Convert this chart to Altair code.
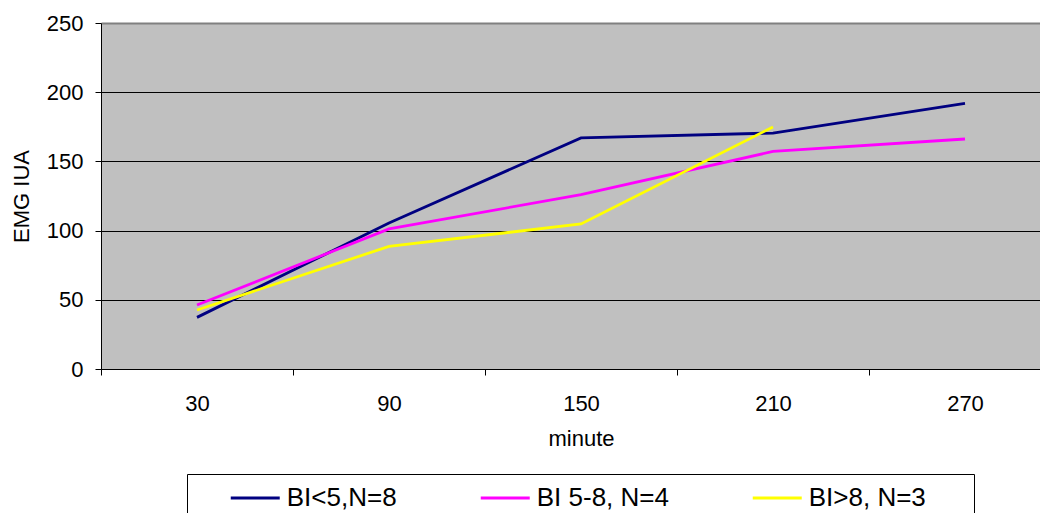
import altair as alt
import pandas as pd

# ---- data ----
minutes = [30, 90, 150, 210, 270]
series_names = ["BI<5,N=8", "BI 5-8, N=4", "BI>8, N=3"]
bi_lt5 = [37.3, 105.5, 167.0, 170.5, 192.0]
bi_5_8 = [46.2, 101.2, 126.0, 157.2, 166.2]
bi_gt8 = [42.6, 88.6, 104.8, 174.9, None]
colors = ["#000080", "#FF00FF", "#FFFF00"]
y_ticks = [0, 50, 100, 150, 200, 250]

rows = []
for name, vals in zip(series_names, [bi_lt5, bi_5_8, bi_gt8]):
    for m, v in zip(minutes, vals):
        if v is not None:
            rows.append({"minute": m, "value": v, "series": name})
df = pd.DataFrame(rows)

FONT = "Liberation Sans"
BLANK = chr(0x2800)  # blank glyph used only to widen the legend box on the right

x_axis = alt.Axis(
    title="minute", tickBand="extent", labelAngle=0, grid=False,
    domainColor="black", domainWidth=1, tickColor="black", tickSize=6,
    labelFont=FONT, labelFontSize=22, labelColor="black", labelPadding=18,
    titleFont=FONT, titleFontSize=22, titleFontWeight="normal", titleColor="black",
    titlePadding=14,
)
y_axis = alt.Axis(
    title="EMG IUA", values=y_ticks, grid=True,
    gridColor=alt.condition("datum.value == 250", alt.value("#808080"), alt.value("black")),
    gridWidth=alt.condition("datum.value == 250", alt.value(2), alt.value(1)),
    domainColor="black", domainWidth=1, tickColor="black", tickSize=6,
    labelFont=FONT, labelFontSize=22, labelColor="black", labelPadding=12,
    titleFont=FONT, titleFontSize=22, titleFontWeight="normal", titleColor="black",
    titlePadding=13,
)
legend = alt.Legend(
    title=" ", titleOrient="left", titleFontSize=1, titlePadding=34,
    orient="none", legendX=86, legendY=451, direction="horizontal",
    symbolType="M-2,0H2", symbolSize=600, symbolOffset=10.25, symbolStrokeWidth=3,
    labelOffset=17.5, labelFont=FONT, labelFontSize=26, labelColor="black",
    labelLimit=400, columnPadding=77, padding=10,
    strokeColor="black", fillColor="white",
    labelExpr="datum.label == 'BI>8, N=3' ? datum.label + '" + BLANK * 2 + "' : datum.label",
)

chart = alt.Chart(df).mark_line(strokeWidth=2.8).encode(
    x=alt.X("minute:O", bandPosition=0.5,
            scale=alt.Scale(type="band", paddingInner=0, paddingOuter=0, range=[0, 960]),
            axis=x_axis),
    y=alt.Y("value:Q", scale=alt.Scale(domain=[0, 250], nice=False), axis=y_axis),
    color=alt.Color("series:N", scale=alt.Scale(domain=series_names, range=colors),
                    legend=legend),
).properties(
    width=939, height=346,
    autosize="none",
    padding={"left": 93, "top": 15, "right": 0, "bottom": 144},
    background="white",
).configure_view(fill="#C0C0C0", stroke="transparent")

chart.save("out.html", embed_options={"renderer": "svg", "actions": False})
